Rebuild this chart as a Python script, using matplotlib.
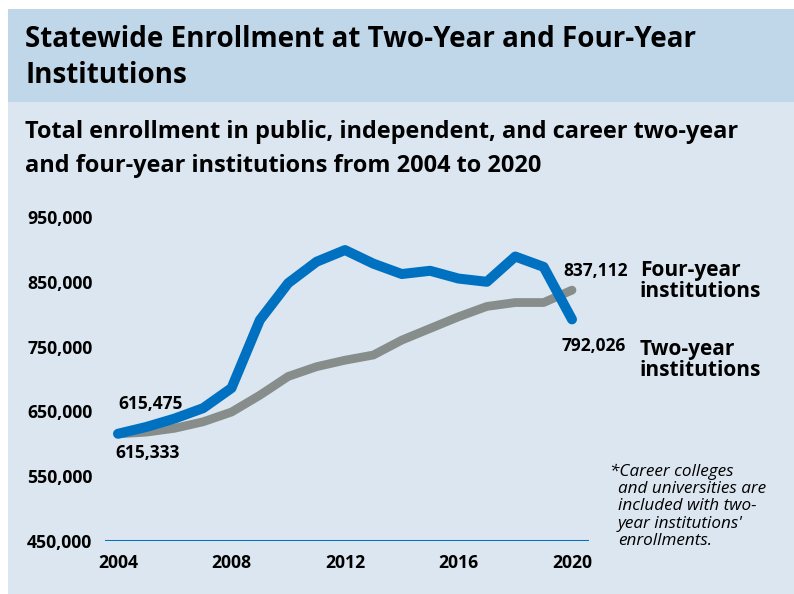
import numpy as np
import matplotlib.pyplot as plt
from matplotlib.patches import Rectangle

plt.rcParams['font.family'] = ['Open Sans', 'DejaVu Sans']

years = list(range(2004, 2021))
# (enrollment)
blue_vals = [615475, 626000, 639000, 655000, 686000, 791000, 848000, 881000, 899000,
             878000, 862000, 867000, 855000, 850000, 889000, 873000, 792026]
gray_vals = [615333, 618000, 624000, 634000, 649000, 675000, 704000, 719000, 729000,
             737000, 760000, 778000, 796000, 812000, 818000, 818000, 837112]
ytick_vals = [450000, 550000, 650000, 750000, 850000, 950000]
xtick_vals = [2004, 2008, 2012, 2016, 2020]
note_lines = ["*Career colleges", "and universities are", "included with two-",
              "year institutions'", "enrollments."]

W, H = 794, 594
blue = "#0070c0"
gray = "#878d8b"

fig = plt.figure(figsize=(W / 100, H / 100), dpi=100)
fig.patch.set_facecolor("white")
fig.add_artist(Rectangle((8 / W, 0), 1, (H - 102) / H, transform=fig.transFigure,
                         facecolor="#dce6f0", edgecolor="none", zorder=0))
fig.add_artist(Rectangle((8 / W, (H - 102) / H), 1, 93 / H, transform=fig.transFigure,
                         facecolor="#c0d7ea", edgecolor="none", zorder=0))

fig.text(25 / W, 1 - 47 / H, "Statewide Enrollment at Two-Year and Four-Year",
         fontsize=20, fontweight="bold", va="baseline")
fig.text(25 / W, 1 - 83 / H, "Institutions", fontsize=20, fontweight="bold", va="baseline")
fig.text(25 / W, 1 - 138 / H, "Total enrollment in public, independent, and career two-year",
         fontsize=16.9, fontweight="bold", va="baseline")
fig.text(25 / W, 1 - 172 / H, "and four-year institutions from 2004 to 2020",
         fontsize=16.9, fontweight="bold", va="baseline")

ax = fig.add_axes([105 / W, 1 - 541 / H, 484 / W, 324 / H])
ax.set_facecolor("none")
for s in ax.spines.values():
    s.set_visible(False)
ax.set_xlim(2004 - 13 / 28.375, 2020 + 17 / 28.375)
ax.set_ylim(450000, 950000)
ax.axhline(450000, color=blue, lw=2.2, zorder=1)

ax.plot(years, gray_vals, color=gray, lw=6.3, solid_capstyle="round",
        solid_joinstyle="round", clip_on=False, zorder=2)
ax.plot(years, blue_vals, color=blue, lw=7.2, solid_capstyle="round",
        solid_joinstyle="round", clip_on=False, zorder=3)

ax.set_yticks(ytick_vals)
ax.set_yticklabels([f"{v:,}" for v in ytick_vals], fontsize=12.7, fontweight="bold")
ax.set_xticks(xtick_vals)
ax.set_xticklabels([str(v) for v in xtick_vals], fontsize=12.7, fontweight="bold")
ax.tick_params(axis="y", length=0, pad=56)
ax.tick_params(axis="x", length=0, pad=9)
for lab in ax.get_yticklabels():
    lab.set_horizontalalignment("left")

lab_kw = dict(textcoords="offset pixels", fontsize=12.5, fontweight="bold", va="center", ha="left")
ax.annotate(f"{blue_vals[0]:,}", (years[0], blue_vals[0]), xytext=(0, 30), **lab_kw)
ax.annotate(f"{gray_vals[0]:,}", (years[0], gray_vals[0]), xytext=(-3, -19), **lab_kw)
ax.annotate(f"{gray_vals[-1]:,}", (years[-1], gray_vals[-1]), xytext=(-9, 19), **lab_kw)
ax.annotate(f"{blue_vals[-1]:,}", (years[-1], blue_vals[-1]), xytext=(-10, -27), **lab_kw)

ser_kw = dict(textcoords="offset pixels", fontsize=15, fontweight="bold", va="center",
              ha="left", linespacing=1.0)
ax.annotate("Four-year\ninstitutions", (years[-1], gray_vals[-1]), xytext=(68, 9), **ser_kw)
ax.annotate("Two-year\ninstitutions", (years[-1], blue_vals[-1]), xytext=(68, -41), **ser_kw)

# footnote, one line at a time so the hanging indent matches
for i, line in enumerate(note_lines):
    x0 = 610 if i == 0 else 618
    fig.text(x0 / W, 1 - (472 + 17.2 * i) / H, line, fontsize=12.3, style="italic",
             ha="left", va="center")

fig.savefig("out.png", dpi=100)
